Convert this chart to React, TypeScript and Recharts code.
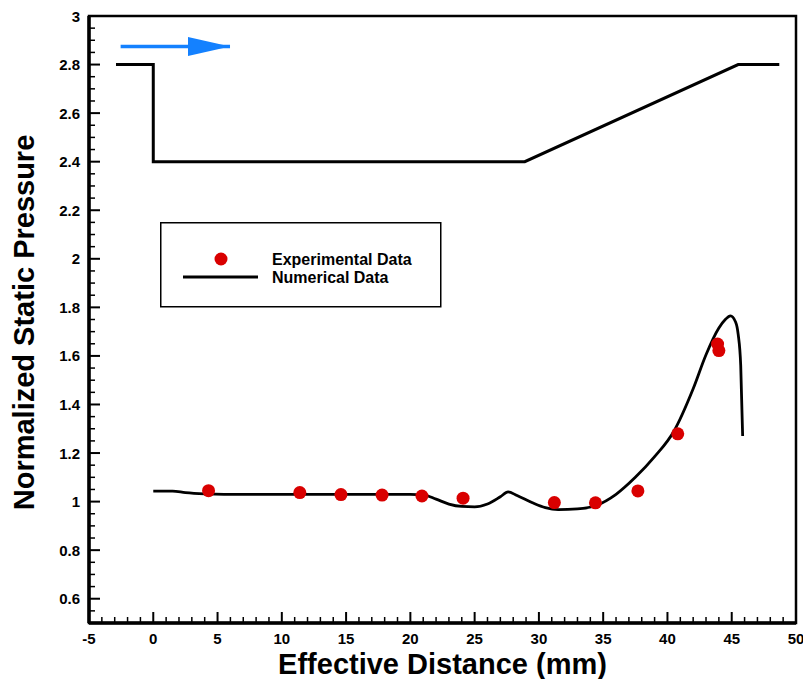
import React from 'react';
import {
  ComposedChart,
  Line,
  Scatter,
  XAxis,
  YAxis,
  ReferenceArea,
  Legend
} from 'recharts';

// Experimental static pressure taps
const expX = [4.3, 11.4, 14.6, 17.8, 20.9, 24.1, 31.2, 34.4, 37.7, 40.8, 43.9, 44.0];
const expY = [1.045, 1.037, 1.029, 1.027, 1.023, 1.014, 0.996, 0.995, 1.044, 1.279, 1.649, 1.622];

// CFD wall pressure along the channel
const numX = [0, 1.5, 2.5, 4, 5.5, 10, 15, 20, 21, 22, 23, 24, 25, 26, 27, 27.6, 28.3, 29.5, 30.5, 31.5, 33, 34.5, 36, 37.5, 39, 40.5, 42, 43, 44, 44.5, 44.9, 45.3, 45.5, 45.7, 45.85];
const numY = [1.043, 1.043, 1.037, 1.032, 1.03, 1.03, 1.03, 1.03, 1.028, 1.01, 0.99, 0.98, 0.978, 0.99, 1.02, 1.04, 1.025, 0.995, 0.975, 0.967, 0.97, 0.985, 1.03, 1.1, 1.185, 1.29, 1.465, 1.605, 1.715, 1.75, 1.765, 1.74, 1.69, 1.56, 1.27];

// Channel wall outline sketch drawn above the data
const geomX = [-2.9, 0, 0, 28.9, 45.5, 48.7];
const geomY = [2.8, 2.8, 2.4, 2.4, 2.8, 2.8];

// Flow direction arrow
const arrowX = [-2.54, 5.97];
const arrowY = [2.874, 2.874];

const xMajor = [-5, 0, 5, 10, 15, 20, 25, 30, 35, 40, 45, 50];
const yMajor = [0.6, 0.8, 1, 1.2, 1.4, 1.6, 1.8, 2, 2.2, 2.4, 2.6, 2.8, 3];

const xTicks: number[] = [];
for (let i = -5; i <= 50; i++) xTicks.push(i);
const yTicks: number[] = [];
for (let i = 10; i <= 60; i++) yTicks.push(Math.round(i * 5) / 100);

const toRows = (xs: number[], ys: number[]) => xs.map((x, i) => ({ x, y: ys[i] }));
const expData = toRows(expX, expY);
const numData = toRows(numX, numY);
const geomData = toRows(geomX, geomY);
const arrowData = toRows(arrowX, arrowY);

const FONT = '"Liberation Sans", Arial, Helvetica, sans-serif';
const RED = '#d90000';
const BLUE = '#1481ff';

const isMajor = (v: number, majors: number[]) => majors.some((m) => Math.abs(m - v) < 1e-6);

const XTick = ({ x, y, payload }: any) => {
  const major = isMajor(payload.value, xMajor);
  return (
    <g>
      <line x1={x} y1={y} x2={x} y2={y - (major ? 11 : 6)} stroke="#000" strokeWidth={major ? 2 : 1.5} />
      {major && (
        <text x={x} y={y + 21} textAnchor="middle" fontFamily={FONT} fontWeight="bold" fontSize={15} fill="#000">
          {payload.value}
        </text>
      )}
    </g>
  );
};

const YTick = ({ x, y, payload }: any) => {
  const major = isMajor(payload.value, yMajor);
  return (
    <g>
      <line x1={x} y1={y} x2={x + (major ? 11 : 6)} y2={y} stroke="#000" strokeWidth={major ? 2 : 1.5} />
      {major && (
        <text x={x - 9} y={y + 5.5} textAnchor="end" fontFamily={FONT} fontWeight="bold" fontSize={15} fill="#000">
          {payload.value}
        </text>
      )}
    </g>
  );
};

const Dot = ({ cx, cy }: any) => <circle cx={cx} cy={cy} r={6.5} fill={RED} />;

const ArrowHead = ({ cx, cy, index }: any) => {
  if (index !== arrowData.length - 1) return <g key={`a-${index}`} />;
  return (
    <polygon
      key={`a-${index}`}
      points={`${cx},${cy} ${cx - 42},${cy - 9.5} ${cx - 42},${cy + 9.5}`}
      fill={BLUE}
    />
  );
};

const LegendBox = () => (
  <svg width={282} height={86} style={{ display: 'block', overflow: 'visible' }}>
    <rect x={0.75} y={0.75} width={280} height={84} fill="#fff" stroke="#000" strokeWidth={1.5} />
    <circle cx={61} cy={37} r={6.5} fill={RED} />
    <line x1={23} y1={55} x2={98} y2={55} stroke="#000" strokeWidth={3} />
    <text x={112} y={43} fontFamily={FONT} fontWeight="bold" fontSize={16} fill="#000">
      Experimental Data
    </text>
    <text x={112} y={61} fontFamily={FONT} fontWeight="bold" fontSize={16} fill="#000">
      Numerical Data
    </text>
  </svg>
);

const YLabel = ({ viewBox }: any) => {
  const cy = viewBox.y + viewBox.height / 2 + 3;
  const cx = 24;
  return (
    <text
      x={cx}
      y={cy}
      transform={`rotate(-90, ${cx}, ${cy})`}
      textAnchor="middle"
      dominantBaseline="central"
      fontFamily={FONT}
      fontWeight="bold"
      fontSize={29}
      fill="#000"
    >
      Normalized Static Pressure
    </text>
  );
};

export default function App() {
  return (
    <div style={{ position: 'absolute', left: 0, top: 0, background: '#fff' }}>
      <ComposedChart width={803} height={679} margin={{ top: 16, right: 7, left: 0, bottom: 0 }}>
        <XAxis
          type="number"
          dataKey="x"
          domain={[-5, 50]}
          ticks={xTicks}
          interval={0}
          tick={<XTick />}
          tickLine={false}
          tickSize={0}
          tickMargin={0}
          height={56}
          axisLine={{ stroke: '#000', strokeWidth: 3.5 }}
          allowDataOverflow
          label={{
            value: 'Effective Distance (mm)',
            position: 'insideBottom',
            offset: 5,
            fontFamily: FONT,
            fontWeight: 'bold',
            fontSize: 29,
            fill: '#000'
          }}
        />
        <YAxis
          type="number"
          dataKey="y"
          domain={[0.5, 3]}
          ticks={yTicks}
          interval={0}
          tick={<YTick />}
          tickLine={false}
          tickSize={0}
          tickMargin={0}
          width={89}
          axisLine={{ stroke: '#000', strokeWidth: 3.5 }}
          allowDataOverflow
          label={<YLabel />}
        />
        <ReferenceArea x1={-5} x2={50} y1={0.5} y2={3} fill="none" fillOpacity={0} stroke="#000" strokeWidth={2.5} />
        <Line
          data={geomData}
          dataKey="y"
          type="linear"
          stroke="#000"
          strokeWidth={3}
          dot={false}
          legendType="none"
          isAnimationActive={false}
        />
        <Line
          data={arrowData}
          dataKey="y"
          type="linear"
          stroke={BLUE}
          strokeWidth={3.5}
          dot={<ArrowHead />}
          legendType="none"
          isAnimationActive={false}
        />
        <Line
          data={numData}
          dataKey="y"
          name="Numerical Data"
          type="monotone"
          stroke="#000"
          strokeWidth={2.8}
          dot={false}
          isAnimationActive={false}
        />
        <Scatter
          data={expData}
          dataKey="y"
          name="Experimental Data"
          shape={<Dot />}
          isAnimationActive={false}
        />
        <Legend
          content={<LegendBox />}
          wrapperStyle={{ position: 'absolute', left: 160, top: 222, width: 282, height: 0, overflow: 'visible' }}
        />
      </ComposedChart>
    </div>
  );
}
